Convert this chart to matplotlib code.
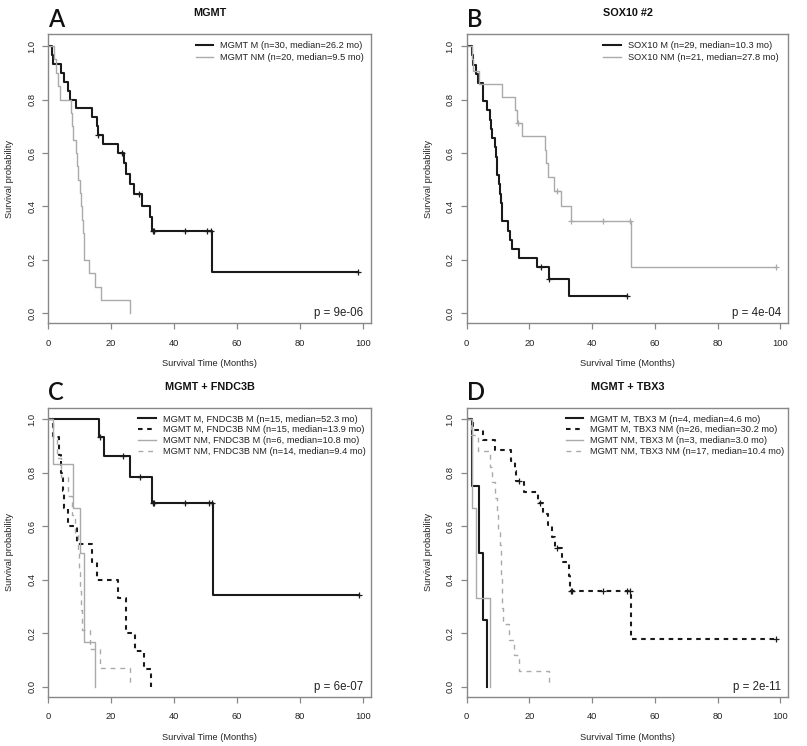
import matplotlib
matplotlib.use("Agg")
import matplotlib.pyplot as plt

plt.rcParams['font.family'] = ['Liberation Sans', 'DejaVu Sans']

DARK = '#1a1a1a'
GRAY = '#aaaaaa'

# ---- Panel A: MGMT ----
a_m_time = [0, 1.3, 1.5, 3.9, 5.0, 6.4, 6.9, 8.8, 13.8, 15.4, 15.7, 17.5, 22.3, 24.2, 24.6,
            26.0, 27.4, 29.9, 32.3, 33.1, 52.2, 98.6]
a_m_surv = [1.0, 0.967, 0.933, 0.9, 0.867, 0.833, 0.8, 0.767, 0.733, 0.7, 0.667, 0.633, 0.6, 0.564,
            0.521, 0.484, 0.446, 0.401, 0.362, 0.309, 0.155, 0.155]
a_m_cens_t = [15.9, 23.3, 28.8, 33.2, 33.6, 43.5, 50.6, 51.6, 98.6]
a_m_cens_s = [0.667, 0.6, 0.446, 0.309, 0.309, 0.309, 0.309, 0.309, 0.155]

a_nm_time = [0, 1.8, 2.6, 3.2, 3.7, 7.1, 7.5, 7.9, 8.7, 9.0, 9.5, 10.0, 10.4, 10.7, 11.0, 11.2,
             11.4, 13.0, 14.8, 16.6, 26.0]
a_nm_surv = [1.0, 0.95, 0.9, 0.85, 0.8, 0.75, 0.7, 0.65, 0.6, 0.55, 0.5, 0.45, 0.4, 0.35, 0.3, 0.25,
             0.2, 0.15, 0.1, 0.05, 0.0]

# ---- Panel B: SOX10 #2 ----
b_m_time = [0, 1.8, 2.0, 2.9, 3.6, 5.2, 6.4, 7.3, 7.6, 8.2, 9.0, 9.3, 9.5, 9.7, 10.3, 10.6, 11.0,
            11.2, 11.4, 13.1, 13.8, 14.5, 16.6, 22.5, 26.3, 32.5, 51.1]
b_m_surv = [1.0, 0.966, 0.931, 0.897, 0.862, 0.793, 0.759, 0.724, 0.69, 0.655, 0.621, 0.586, 0.552,
            0.517, 0.483, 0.448, 0.414, 0.379, 0.345, 0.31, 0.276, 0.241, 0.207, 0.172, 0.129,
            0.065, 0.065]
b_m_cens_t = [23.7, 26.1, 51.1]
b_m_cens_s = [0.172, 0.129, 0.065]

b_nm_time = [0, 1.8, 2.0, 4.0, 11.3, 15.3, 15.9, 17.7, 24.8, 25.2, 26.0, 27.8, 30.1, 33.1, 52.3, 98.7]
b_nm_surv = [1.0, 0.952, 0.905, 0.857, 0.81, 0.762, 0.714, 0.663, 0.612, 0.561, 0.51, 0.459, 0.40,
             0.344, 0.172, 0.172]
b_nm_cens_t = [16.4, 28.8, 33.4, 43.6, 52.1, 98.7]
b_nm_cens_s = [0.714, 0.459, 0.344, 0.344, 0.344, 0.172]

# ---- Panel C: MGMT + FNDC3B ----
c_mm_time = [0, 16.0, 17.8, 26.1, 33.0, 52.3, 98.9]
c_mm_surv = [1.0, 0.933, 0.862, 0.784, 0.686, 0.343, 0.343]
c_mm_cens_t = [16.3, 23.6, 29.0, 33.3, 33.7, 43.6, 51.1, 52.1, 98.9]
c_mm_cens_s = [0.933, 0.862, 0.784, 0.686, 0.686, 0.686, 0.686, 0.686, 0.343]

c_mnm_time = [0, 1.5, 3.5, 3.9, 4.8, 5.0, 6.4, 9.0, 13.9, 15.4, 22.3, 24.6, 24.8, 27.7, 30.3, 32.5]
c_mnm_surv = [1.0, 0.933, 0.867, 0.8, 0.733, 0.667, 0.6, 0.533, 0.467, 0.4, 0.333, 0.267, 0.2,
              0.133, 0.067, 0.0]

c_nmm_time = [0, 1.6, 7.8, 10.1, 11.2, 14.9]
c_nmm_surv = [1.0, 0.833, 0.667, 0.5, 0.167, 0.0]

c_nmnm_time = [0, 1.4, 2.9, 4.0, 6.4, 7.5, 8.6, 9.4, 9.7, 10.0, 10.3, 10.6, 13.1, 16.5, 25.9]
c_nmnm_surv = [1.0, 0.929, 0.857, 0.786, 0.714, 0.643, 0.571, 0.5, 0.429, 0.357, 0.286, 0.214,
               0.143, 0.071, 0.0]

# ---- Panel D: MGMT + TBX3 ----
d_mm_time = [0, 1.8, 3.9, 5.2, 6.6]
d_mm_surv = [1.0, 0.75, 0.5, 0.25, 0.0]

d_mnm_time = [0, 2.0, 5.2, 8.9, 14.0, 15.4, 15.8, 18.2, 22.7, 24.4, 25.8, 27.2, 28.0, 30.4, 32.5,
              33.0, 52.3, 98.5]
d_mnm_surv = [1.0, 0.962, 0.923, 0.885, 0.846, 0.808, 0.769, 0.729, 0.687, 0.645, 0.604, 0.562,
              0.519, 0.467, 0.415, 0.36, 0.18, 0.18]
d_mnm_cens_t = [16.6, 23.5, 28.8, 33.3, 33.7, 43.6, 51.1, 52.1, 98.5]
d_mnm_cens_s = [0.769, 0.687, 0.519, 0.36, 0.36, 0.36, 0.36, 0.36, 0.18]

d_nmm_time = [0, 1.8, 3.0, 7.3]
d_nmm_surv = [1.0, 0.667, 0.333, 0.0]

d_nmnm_time = [0, 1.5, 3.5, 7.4, 8.0, 9.0, 9.6, 10.0, 10.6, 10.8, 11.0, 11.2, 11.4, 11.6, 13.6,
               15.0, 16.6, 26.2]
d_nmnm_surv = [1.0, 0.941, 0.882, 0.824, 0.765, 0.706, 0.647, 0.588, 0.529, 0.471, 0.412, 0.353,
               0.294, 0.235, 0.176, 0.118, 0.059, 0.0]

x_ticks = [0, 20, 40, 60, 80, 100]
y_ticks = [0.0, 0.2, 0.4, 0.6, 0.8, 1.0]

# line styles
SOLID_DARK = dict(color=DARK, lw=1.5, ls='-')
DASH_DARK = dict(color=DARK, lw=1.5, ls=(0, (2.2, 2.2)))
SOLID_GRAY = dict(color=GRAY, lw=1.0, ls='-')
DASH_GRAY = dict(color=GRAY, lw=1.0, ls=(0, (3.5, 3.5)))

fig = plt.figure(figsize=(8.07, 7.46), dpi=100)
W, H = 807.0, 746.0


def make_axes(left, top, right, bottom):
    return fig.add_axes([left / W, 1 - bottom / H, (right - left) / W, (bottom - top) / H])


def setup(ax, title, letter, pval):
    ax.set_xlim(0, 102.5)
    ax.set_ylim(-0.037, 1.044)
    ax.set_xticks(x_ticks)
    ax.set_yticks(y_ticks)
    ax.set_yticklabels(['%.1f' % v for v in y_ticks])
    for s in ax.spines.values():
        s.set_color('#888888')
        s.set_linewidth(1.0)
    ax.tick_params(axis='both', colors='#888888', labelcolor='#222222', labelsize=6.7,
                   length=4.2, width=0.9)
    ax.tick_params(axis='x', pad=7)
    ax.tick_params(axis='y', pad=4.5, labelrotation=90)
    for lab in ax.get_yticklabels():
        lab.set_va('center')
    ax.set_xlabel('Survival Time (Months)', fontsize=6.7, color='#222222', va='center')
    ax.xaxis.set_label_coords(0.5, -0.14)
    ax.set_ylabel('Survival probability', fontsize=6.7, color='#222222', va='center')
    ax.yaxis.set_label_coords(-0.119, 0.5)
    ax.text(0.5, 1.073, title, transform=ax.transAxes, ha='center', va='center',
            fontsize=7.8, fontweight='bold', color='#111111')
    ax.text(0.0, 1.026, letter, transform=ax.transAxes, ha='left', va='baseline',
            fontsize=17, fontweight='semibold', family=['Lato', 'DejaVu Sans'], color='#111111')
    ax.text(0.978, 0.035, pval, transform=ax.transAxes, ha='right', va='center',
            fontsize=8.3, color='#222222')


def curve(ax, t, s, style, label, ct=None, cs=None):
    ax.step(t, s, where='post', label=label, **style)
    if ct:
        ax.plot(ct, cs, ls='none', marker='+', ms=5, mew=0.9, color=style['color'])


def legend(ax, leg_x, leg_space):
    ax.legend(loc='upper right', bbox_to_anchor=(leg_x, 0.976), frameon=False, fontsize=6.7,
              borderpad=0, borderaxespad=0, handlelength=1.85, handletextpad=0.8,
              labelspacing=leg_space, labelcolor='#222222')


# A
axA = make_axes(48.3, 34.3, 370.7, 323.3)
curve(axA, a_m_time, a_m_surv, SOLID_DARK, 'MGMT M (n=30, median=26.2 mo)', a_m_cens_t, a_m_cens_s)
curve(axA, a_nm_time, a_nm_surv, SOLID_GRAY, 'MGMT NM (n=20, median=9.5 mo)')
setup(axA, 'MGMT', 'A', 'p = 9e-06')
legend(axA, 0.979, 0.35)

# B
axB = make_axes(466.7, 34.3, 788.3, 323.3)
curve(axB, b_m_time, b_m_surv, SOLID_DARK, 'SOX10 M (n=29, median=10.3 mo)', b_m_cens_t, b_m_cens_s)
curve(axB, b_nm_time, b_nm_surv, SOLID_GRAY, 'SOX10 NM (n=21, median=27.8 mo)', b_nm_cens_t, b_nm_cens_s)
setup(axB, 'SOX10 #2', 'B', 'p = 4e-04')
legend(axB, 0.97, 0.35)

# C
axC = make_axes(48.3, 407.7, 370.7, 696.7)
curve(axC, c_mm_time, c_mm_surv, SOLID_DARK, 'MGMT M, FNDC3B M (n=15, median=52.3 mo)',
      c_mm_cens_t, c_mm_cens_s)
curve(axC, c_mnm_time, c_mnm_surv, DASH_DARK, 'MGMT M, FNDC3B NM (n=15, median=13.9 mo)')
curve(axC, c_nmm_time, c_nmm_surv, SOLID_GRAY, 'MGMT NM, FNDC3B M (n=6, median=10.8 mo)')
curve(axC, c_nmnm_time, c_nmnm_surv, DASH_GRAY, 'MGMT NM, FNDC3B NM (n=14, median=9.4 mo)')
setup(axC, 'MGMT + FNDC3B', 'C', 'p = 6e-07')
legend(axC, 0.985, 0.2)

# D
axD = make_axes(466.7, 407.7, 788.3, 696.7)
curve(axD, d_mm_time, d_mm_surv, SOLID_DARK, 'MGMT M, TBX3 M (n=4, median=4.6 mo)')
curve(axD, d_mnm_time, d_mnm_surv, DASH_DARK, 'MGMT M, TBX3 NM (n=26, median=30.2 mo)',
      d_mnm_cens_t, d_mnm_cens_s)
curve(axD, d_nmm_time, d_nmm_surv, SOLID_GRAY, 'MGMT NM, TBX3 M (n=3, median=3.0 mo)')
curve(axD, d_nmnm_time, d_nmnm_surv, DASH_GRAY, 'MGMT NM, TBX3 NM (n=17, median=10.4 mo)')
setup(axD, 'MGMT + TBX3', 'D', 'p = 2e-11')
legend(axD, 0.988, 0.2)

fig.savefig('out.png', dpi=100, facecolor='white')
